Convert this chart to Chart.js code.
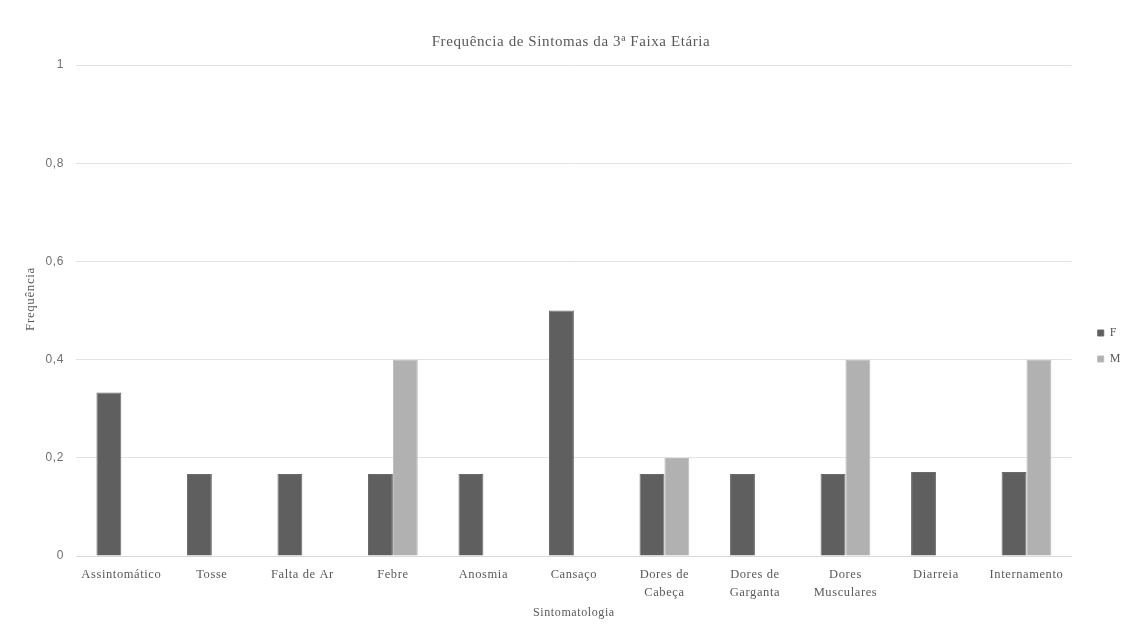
<!DOCTYPE html>
<html>
<head>
<meta charset="utf-8">
<script src="https://cdn.jsdelivr.net/npm/chart.js@4/dist/chart.umd.min.js"></script>
<style>
  html, body { margin: 0; padding: 0; background: #ffffff; }
  #wrap { width: 1131px; height: 633px; position: relative; }
</style>
</head>
<body>
<div id="wrap"><canvas id="chart" width="1131" height="633"></canvas></div>
<script>
// Symptom categories (multi-line labels are arrays)
const categories = [
  'Assintomático', 'Tosse', 'Falta de Ar', 'Febre', 'Anosmia', 'Cansaço',
  ['Dores de', 'Cabeça'], ['Dores de', 'Garganta'], ['Dores', 'Musculares'],
  'Diarreia', 'Internamento'
];
// Relative frequency per sex
const femaleValues = [0.333, 0.167, 0.167, 0.167, 0.167, 0.5, 0.167, 0.167, 0.167, 0.171, 0.171];
const maleValues   = [null, null, null, 0.4, null, null, 0.2, null, 0.4, null, 0.4];
const seriesNames  = ['F', 'M'];
const yTickValues  = [0, 0.2, 0.4, 0.6, 0.8, 1];

const serif = '"Liberation Serif", "DejaVu Serif", serif';
const sans = '"Liberation Sans", "DejaVu Sans", sans-serif';
const textGray = '#595959';

// Slightly spaced-out lettering for every text drawn on the canvas
const spacedText = {
  id: 'spacedText',
  beforeLayout(chart) { chart.ctx.letterSpacing = '0.6px'; },
  beforeDraw(chart) { chart.ctx.letterSpacing = '0.6px'; }
};

// Nudge the legend block a little right and down from its default right-side slot
const legendOffset = {
  id: 'legendOffset',
  afterLayout(chart) {
    const lg = chart.legend;
    if (!lg) return;
    lg.left += 12; lg.right += 12;
    lg.top += 30; lg.bottom += 30;
  }
};

new Chart(document.getElementById('chart'), {
  type: 'bar',
  data: {
    labels: categories,
    datasets: [
      { label: seriesNames[0], data: femaleValues, backgroundColor: '#5f5f5f',
        borderColor: '#6a6a6a', borderWidth: 1, barPercentage: 1, categoryPercentage: 0.55 },
      { label: seriesNames[1], data: maleValues, backgroundColor: '#b1b1b1',
        borderColor: '#bababa', borderWidth: 1, barPercentage: 1, categoryPercentage: 0.55 }
    ]
  },
  options: {
    responsive: false,
    animation: false,
    layout: { padding: { left: 23, right: 12, top: 12, bottom: 13 } },
    plugins: {
      title: {
        display: true,
        text: 'Frequência de Sintomas da 3ª Faixa Etária',
        color: textGray,
        font: { family: serif, size: 15, weight: 'normal' },
        padding: { top: 21, bottom: 14 }
      },
      legend: {
        position: 'right',
        labels: {
          color: textGray,
          font: { family: serif, size: 12 },
          boxWidth: 6, boxHeight: 6,
          padding: 14
        }
      },
      tooltip: { enabled: false }
    },
    scales: {
      x: {
        grid: { display: false, drawTicks: false },
        border: { color: '#d9d9d9', width: 1 },
        ticks: {
          color: textGray, font: { family: serif, size: 12.5, lineHeight: 1.42 },
          maxRotation: 0, autoSkip: false, padding: 10
        },
        title: {
          display: true, text: 'Sintomatologia', color: textGray,
          font: { family: serif, size: 12 }, padding: { top: -6, bottom: 0 }
        }
      },
      y: {
        min: 0, max: 1,
        afterBuildTicks: (axis) => { axis.ticks = yTickValues.map(v => ({ value: v })); },
        grid: { color: '#e3e3e3', drawTicks: false },
        border: { display: false },
        ticks: {
          color: '#6f6f6f', font: { family: sans, size: 12 }, padding: 12,
          callback: (v) => String(v).replace('.', ',')
        },
        title: {
          display: true, text: '      Frequência', color: textGray,
          font: { family: serif, size: 13 }, padding: { top: 0, bottom: -5 }
        }
      }
    }
  },
  plugins: [spacedText, legendOffset]
});
</script>
</body>
</html>
